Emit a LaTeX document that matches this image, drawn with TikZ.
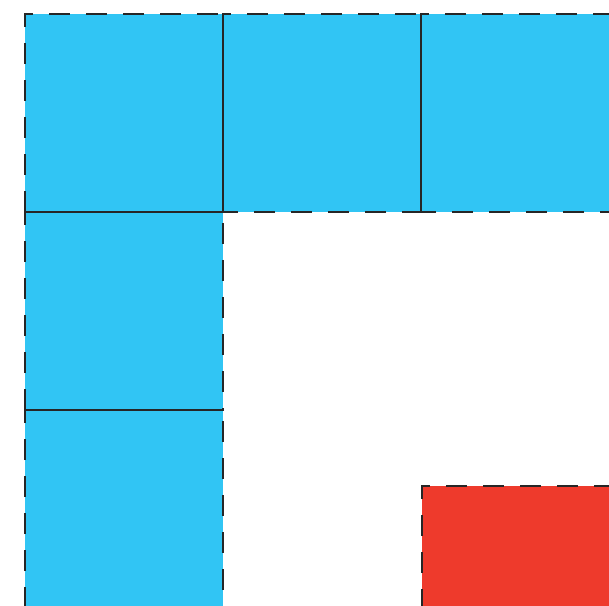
\documentclass[tikz,border=0pt]{standalone}
\definecolor{cellblue}{HTML}{31C5F4}
\definecolor{cellred}{HTML}{EE3A2C}
\definecolor{edge}{HTML}{262626}
\tikzset{
  cellb/.style={fill=cellblue, draw=edge, line width=1.8pt, dash pattern=on 21pt off 16pt},
  cellr/.style={fill=cellred, draw=edge, line width=1.8pt, dash pattern=on 21pt off 16pt},
  inner/.style={draw=edge, line width=1.8pt}
}
\begin{document}
\begin{tikzpicture}[x=1pt,y=1pt]
\useasboundingbox (0,0) rectangle (609,605);
\clip (0,0) rectangle (609,605);
% top row (image y 14..212 -> tikz 591..393)
\path[cellb] (25,393) rectangle (223,591);
\path[cellb] (223,393) rectangle (421,591);
\path[cellb] (421,393) rectangle (619,591);
% left column
\path[cellb] (25,195) rectangle (223,393);
\path[cellb] (25,-3) rectangle (223,195);
% red cell
\path[cellr] (422,-79) rectangle (620,119);
% solid shared edges
\coordinate (a1) at (223,591);
\coordinate (a2) at (223,393);
\coordinate (b1) at (421,591);
\coordinate (b2) at (421,393);
\coordinate (c1) at (25,393);
\coordinate (c2) at (223,393);
\coordinate (d1) at (25,195);
\coordinate (d2) at (223,195);
\draw[inner] (a1) -- (a2);
\draw[inner] (b1) -- (b2);
\draw[inner] (c1) -- (c2);
\draw[inner] (d1) -- (d2);
\end{tikzpicture}
\end{document}
